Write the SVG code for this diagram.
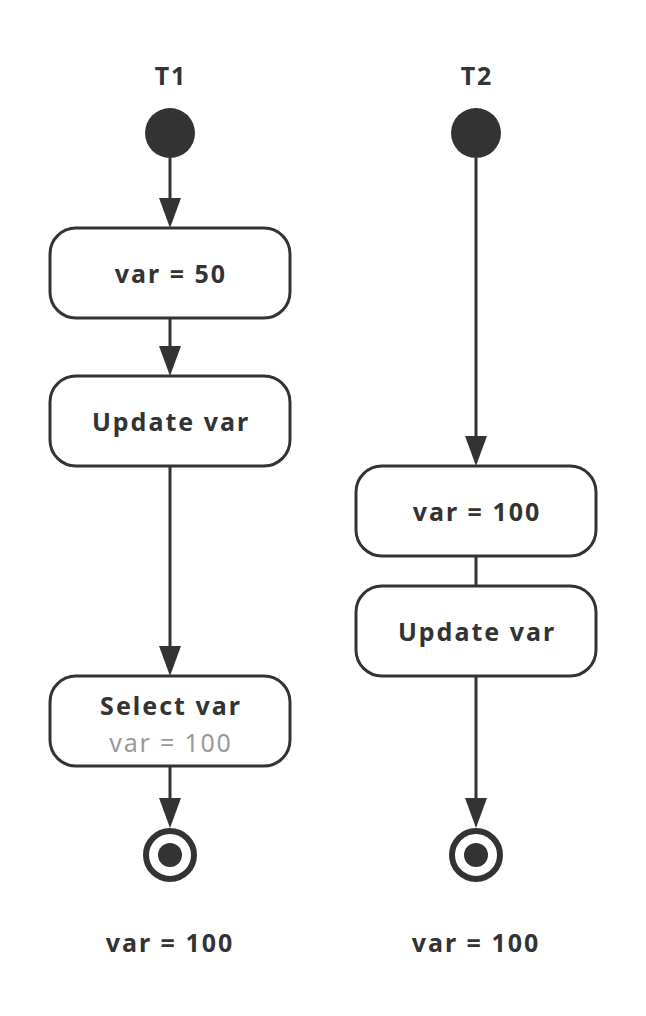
<svg xmlns="http://www.w3.org/2000/svg" width="646" height="1016" viewBox="0 0 646 1016">
<defs>
<style>
.box{fill:#fff;stroke:#333;stroke-width:3}
.lbl{font-family:"Noto Sans","DejaVu Sans",sans-serif;font-weight:bold;font-size:25px;fill:#333;text-anchor:middle;letter-spacing:2px}
.sub{font-family:"Noto Sans","DejaVu Sans",sans-serif;font-size:25px;fill:#999;text-anchor:middle;letter-spacing:1.8px}
.edge{stroke:#333;stroke-width:3;fill:none}
.head{fill:#333}
.start{fill:#333}
</style>
</defs>
<g id="connectors">
<line class="edge" x1="170" y1="158" x2="170" y2="198"/>
<path class="head" d="M159,198 L181,198 L170,228 Z"/>
<line class="edge" x1="170" y1="318" x2="170" y2="346"/>
<path class="head" d="M159,346 L181,346 L170,376 Z"/>
<line class="edge" x1="170" y1="466" x2="170" y2="646"/>
<path class="head" d="M159,646 L181,646 L170,676 Z"/>
<line class="edge" x1="170" y1="766" x2="170" y2="798"/>
<path class="head" d="M159,798 L181,798 L170,828 Z"/>
<line class="edge" x1="476" y1="158" x2="476" y2="436"/>
<path class="head" d="M465,436 L487,436 L476,466 Z"/>
<line class="edge" x1="476" y1="556" x2="476" y2="586"/>
<line class="edge" x1="476" y1="676" x2="476" y2="798"/>
<path class="head" d="M465,798 L487,798 L476,828 Z"/>
</g>
<g id="t1-title"><text class="lbl" x="171" y="85">T1</text></g>
<g id="t2-title"><text class="lbl" x="477" y="85">T2</text></g>
<g id="t1-start"><circle class="start" cx="170" cy="133" r="25"/></g>
<g id="t2-start"><circle class="start" cx="476" cy="133" r="25"/></g>
<g id="t1-set50"><rect class="box" x="50" y="228" width="240" height="90" rx="26"/><text class="lbl" x="171" y="283">var = 50</text></g>
<g id="t1-update"><rect class="box" x="50" y="376" width="240" height="90" rx="26"/><text class="lbl" x="171" y="431">Update var</text></g>
<g id="t1-select"><rect class="box" x="50" y="676" width="240" height="90" rx="26"/><text class="lbl" x="171" y="715">Select var</text><text class="sub" x="171" y="752">var = 100</text></g>
<g id="t2-set100"><rect class="box" x="356" y="466" width="240" height="90" rx="26"/><text class="lbl" x="477" y="521">var = 100</text></g>
<g id="t2-update"><rect class="box" x="356" y="586" width="240" height="90" rx="26"/><text class="lbl" x="477" y="641">Update var</text></g>
<g id="t1-end"><circle cx="170" cy="855" r="24" fill="#fff" stroke="#333" stroke-width="6"/><circle cx="170" cy="855" r="12" fill="#333"/></g>
<g id="t2-end"><circle cx="476" cy="855" r="24" fill="#fff" stroke="#333" stroke-width="6"/><circle cx="476" cy="855" r="12" fill="#333"/></g>
<g id="t1-result"><text class="lbl" x="170" y="952">var = 100</text></g>
<g id="t2-result"><text class="lbl" x="476" y="952">var = 100</text></g>
</svg>
